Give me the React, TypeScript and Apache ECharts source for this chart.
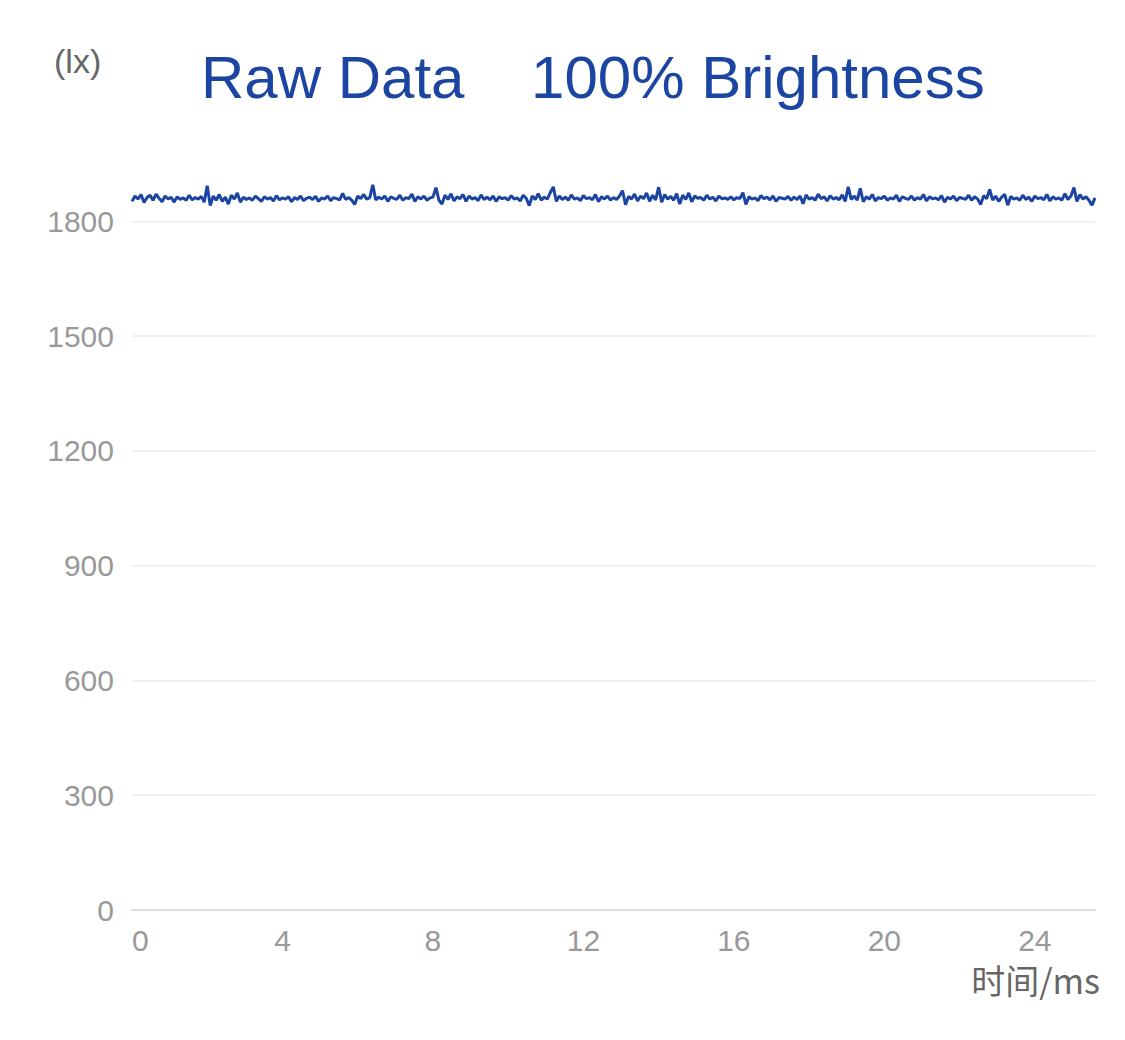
import React, { useEffect, useRef } from "react";
import * as echarts from "echarts";

const TITLE_TEXT = "Raw Data    100% Brightness";
const Y_UNIT = "(lx)";
const X_UNIT = "时间/ms";
const X_MAX = 25.6;
const X_INTERVAL = 4;
const Y_MAX = 1900;
const Y_INTERVAL = 300;

// Illuminance readings (lx), sampled evenly over 0 – 25.6 ms
const luxValues: number[] = [
  1852, 1866, 1858, 1870, 1849, 1862, 1868, 1855, 1871, 1860, 1851, 1866, 1858, 1863, 1850, 1864, 1857, 1861, 1855, 1868,
  1856, 1862, 1858, 1865, 1850, 1893, 1841, 1866, 1855, 1870, 1852, 1863, 1845, 1868, 1858, 1874, 1850, 1863, 1857, 1861,
  1855, 1866, 1859, 1852, 1864, 1858, 1862, 1853, 1867, 1856, 1861, 1858, 1864, 1851, 1862, 1857, 1866, 1854, 1860, 1863,
  1857, 1865, 1852, 1861, 1858, 1866, 1854, 1862, 1859, 1856, 1873, 1857, 1862, 1855, 1844, 1866, 1859, 1870, 1858, 1862,
  1895, 1856, 1863, 1858, 1866, 1852, 1864, 1860, 1857, 1868, 1855, 1862, 1859, 1871, 1852, 1864, 1858, 1866, 1855, 1861,
  1863, 1888, 1855, 1845, 1868, 1857, 1872, 1853, 1864, 1859, 1870, 1852, 1866, 1858, 1862, 1854, 1869, 1857, 1863, 1856,
  1866, 1852, 1864, 1859, 1862, 1855, 1867, 1858, 1861, 1853, 1868, 1860, 1841, 1866, 1857, 1872, 1855, 1863, 1858, 1875,
  1890, 1852, 1866, 1857, 1863, 1855, 1869, 1858, 1861, 1854, 1867, 1859, 1862, 1856, 1870, 1851, 1864, 1858, 1866, 1855,
  1862, 1857, 1866, 1880, 1843, 1865, 1858, 1871, 1853, 1866, 1859, 1874, 1852, 1868, 1856, 1889, 1850, 1870, 1858, 1865,
  1855, 1872, 1845, 1868, 1857, 1874, 1851, 1866, 1860, 1862, 1855, 1868, 1858, 1863, 1853, 1866, 1859, 1861, 1857, 1864,
  1856, 1862, 1859, 1875, 1844, 1864, 1858, 1861, 1854, 1867, 1859, 1863, 1856, 1866, 1852, 1862, 1860, 1858, 1865, 1855,
  1863, 1857, 1866, 1846, 1869, 1858, 1862, 1855, 1871, 1859, 1864, 1853, 1867, 1858, 1862, 1856, 1869, 1852, 1890, 1857,
  1866, 1855, 1886, 1851, 1864, 1858, 1870, 1853, 1862, 1859, 1866, 1855, 1861, 1858, 1868, 1852, 1864, 1860, 1857, 1866,
  1855, 1862, 1858, 1870, 1853, 1864, 1859, 1861, 1856, 1867, 1850, 1863, 1858, 1866, 1854, 1862, 1860, 1857, 1868, 1855,
  1864, 1858, 1844, 1867, 1859, 1883, 1855, 1866, 1852, 1863, 1870, 1842, 1865, 1858, 1861, 1855, 1868, 1857, 1863, 1852,
  1866, 1859, 1862, 1856, 1870, 1853, 1864, 1858, 1861, 1855, 1872, 1857, 1866, 1888, 1852, 1870, 1858, 1864, 1855, 1842, 1861,
];

const FONT = "'Liberation Sans', Arial, sans-serif";

export default function App() {
  const ref = useRef<HTMLDivElement>(null);
  useEffect(() => {
    if (!ref.current) return;
    const chart = echarts.init(ref.current, undefined, { renderer: "svg" });
    const n = luxValues.length;
    const seriesData = luxValues.map((v, i) => [(i * X_MAX) / (n - 1), v]);
    chart.setOption({
      animation: false,
      backgroundColor: "#ffffff",
      title: {
        text: TITLE_TEXT,
        left: 196,
        top: 42,
        textStyle: {
          color: "#1b45a1",
          fontSize: 60,
          fontWeight: "normal",
          fontFamily: FONT,
        },
      },
      graphic: [
        {
          type: "text",
          left: 54,
          top: 44,
          style: { text: Y_UNIT, fill: "#666666", fontSize: 34, fontFamily: FONT },
        },
        {
          type: "text",
          right: 25,
          top: 962,
          style: { text: X_UNIT, fill: "#666666", fontSize: 34, fontFamily: "'Noto Sans CJK SC', sans-serif" },
        },
      ],
      grid: { left: 132, right: 30, top: 183, bottom: 130, containLabel: false },
      xAxis: {
        type: "value",
        min: 0,
        max: X_MAX,
        interval: X_INTERVAL,
        axisLine: { show: true, lineStyle: { color: "#dddddd", width: 2 } },
        axisTick: { show: false },
        splitLine: { show: false },
        axisLabel: {
          color: "#999999",
          fontSize: 30,
          fontFamily: FONT,
          margin: 15,
          showMaxLabel: false,
          alignMinLabel: "left",
        },
      },
      yAxis: {
        type: "value",
        min: 0,
        max: Y_MAX,
        interval: Y_INTERVAL,
        axisLine: { show: false },
        axisTick: { show: false },
        splitLine: { show: true, showMaxLine: false, lineStyle: { color: "#f0f0f0", width: 2 } },
        axisLabel: {
          color: "#999999",
          fontSize: 30,
          fontFamily: FONT,
          margin: 18,
          showMaxLabel: false,
          formatter: (v: number) => String(v),
        },
      },
      series: [
        {
          type: "line",
          data: seriesData,
          showSymbol: false,
          symbol: "none",
          lineStyle: { color: "#1b45a1", width: 3 },
        },
      ],
    });
    return () => chart.dispose();
  }, []);
  return (
    <div
      ref={ref}
      style={{ position: "absolute", left: 0, top: 0, width: 1125, height: 1040 }}
    />
  );
}
